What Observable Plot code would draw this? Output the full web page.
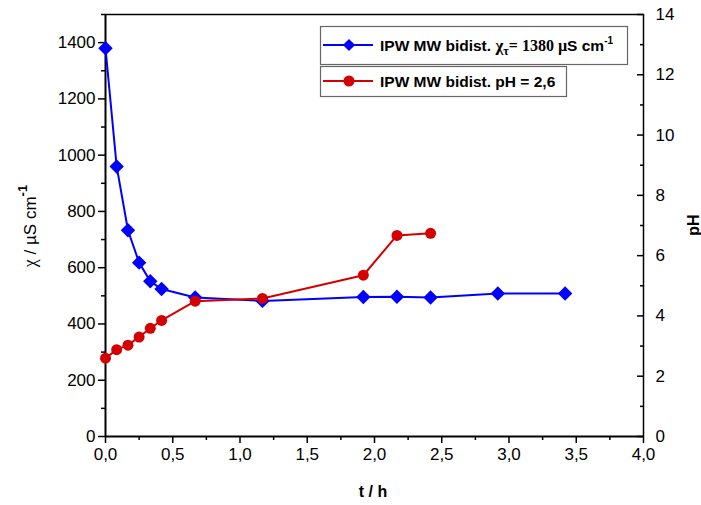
<!DOCTYPE html>
<html><head><meta charset="utf-8">
<script src="https://cdn.jsdelivr.net/npm/d3@7"></script>
<script src="https://cdn.jsdelivr.net/npm/@observablehq/plot@0.6"></script>
<style>body{margin:0;background:#fff}</style>
</head><body><div id="chart"></div>
<script>
// --- data ---
const tChi = [0, 0.083, 0.167, 0.25, 0.333, 0.417, 0.667, 1.167, 1.917, 2.167, 2.417, 2.917, 3.417];
const chi  = [1380, 960, 733, 618, 552, 524, 494, 482, 496, 497, 494, 508, 508];
const tPH  = [0, 0.083, 0.167, 0.25, 0.333, 0.417, 0.667, 1.167, 1.917, 2.167, 2.417];
const pH   = [2.6, 2.88, 3.03, 3.3, 3.59, 3.85, 4.49, 4.58, 5.35, 6.67, 6.74];
const xTicks = [0, 0.5, 1, 1.5, 2, 2.5, 3, 3.5, 4];
const xMinor = [0.25, 0.75, 1.25, 1.75, 2.25, 2.75, 3.25, 3.75];
const chiTicks = [0, 200, 400, 600, 800, 1000, 1200, 1400];
const chiMinor = [100, 300, 500, 700, 900, 1100, 1300, 1500];
const pHTicks = [0, 2, 4, 6, 8, 10, 12, 14];
const pHMinor = [1, 3, 5, 7, 9, 11, 13];
const legendLabels = ["IPW MW bidist.", "IPW MW bidist. pH = 2,6"];

const CHI_MAX = 1500, PH_MAX = 14;
const toChi = p => p * CHI_MAX / PH_MAX;
const chiData = tChi.map((t, i) => ({t, v: chi[i]}));
const phData = tPH.map((t, i) => ({t, v: pH[i]}));

const BLUE = "#0000ff", RED = "#d40000";
const sans = "'Liberation Sans', Arial, sans-serif";
const serif = "'Liberation Serif', 'Times New Roman', serif";
const comma = d => d.toFixed(1).replace(".", ",");

const svg = Plot.plot({
  width: 701, height: 505,
  marginLeft: 105, marginRight: 58, marginTop: 14, marginBottom: 69,
  style: {fontFamily: sans, fontSize: "17px", color: "#000", background: "#fff", overflow: "visible"},
  x: {domain: [0, 4], axis: null},
  y: {domain: [0, CHI_MAX], axis: null},
  marks: [
    // axes
    Plot.axisX({ticks: xMinor, tickSize: 4, fill: "none", label: null, strokeWidth: 1.5}),
    Plot.axisX({ticks: xTicks, tickSize: 7, tickPadding: 4, tickFormat: comma, label: null, strokeWidth: 1.5}),
    Plot.axisY({ticks: chiMinor, tickSize: 4, fill: "none", label: null, strokeWidth: 1.5}),
    Plot.axisY({ticks: chiTicks, tickSize: 7, tickPadding: 3, tickFormat: d => String(d), label: null, strokeWidth: 1.5}),
    Plot.axisY({anchor: "right", ticks: pHMinor.map(toChi), tickSize: 4, insetRight: 4, fill: "none", label: null, strokeWidth: 1.5}),
    Plot.axisY({anchor: "right", ticks: pHTicks.map(toChi), tickSize: 7, insetRight: 7, tickPadding: 12,
      tickFormat: d => String(Math.round(d * PH_MAX / CHI_MAX)), label: null, strokeWidth: 1.5}),
    Plot.ruleX([0], {strokeWidth: 2}),
    Plot.ruleY([0], {strokeWidth: 2}),
    Plot.ruleX([4], {strokeWidth: 1.5}),
    Plot.ruleY([CHI_MAX], {strokeWidth: 1.5}),
    // data
    Plot.line(chiData, {x: "t", y: "v", stroke: BLUE, strokeWidth: 2}),
    Plot.dot(chiData, {x: "t", y: "v", symbol: "diamond2", r: 6.5, fill: BLUE, stroke: "none"}),
    Plot.line(phData, {x: "t", y: d => toChi(d.v), stroke: RED, strokeWidth: 2}),
    Plot.dot(phData, {x: "t", y: d => toChi(d.v), r: 5.5, fill: RED, stroke: "none"})
  ]
});
document.getElementById("chart").appendChild(svg);

const s = d3.select(svg);
// axis titles
s.append("text").attr("x", 373).attr("y", 497).attr("text-anchor", "middle")
  .attr("font-family", sans).attr("font-weight", "bold").attr("font-size", 16).text("t / h");
const yl = s.append("text").attr("transform", "translate(36,226) rotate(-90)").attr("text-anchor", "middle")
  .attr("font-family", sans).attr("font-size", 17);
yl.append("tspan").attr("font-family", serif).attr("font-size", 18).text("χ");
yl.append("tspan").text(" / µS cm");
yl.append("tspan").attr("font-weight", "bold").attr("font-size", 13).attr("dy", -9).text("-1");
s.append("text").attr("transform", "translate(699,225) rotate(-90)").attr("text-anchor", "middle")
  .attr("font-family", sans).attr("font-weight", "bold").attr("font-size", 16).text("pH");

// legend
const lg = s.append("g").attr("text-anchor", "start");
function entry(y0, h, w, color, symbol, build) {
  lg.append("rect").attr("x", 320.5).attr("y", y0 + 0.5).attr("width", w).attr("height", h)
    .attr("fill", "#fff").attr("stroke", "#666").attr("stroke-width", 1.2);
  const cy = y0 + h / 2;
  lg.append("line").attr("x1", 323).attr("x2", 373).attr("y1", cy).attr("y2", cy)
    .attr("stroke", color).attr("stroke-width", 2);
  if (symbol === "diamond") {
    lg.append("path").attr("d", d3.symbol(d3.symbolDiamond2, 95)()).attr("transform", `translate(349,${cy})`).attr("fill", color);
  } else {
    lg.append("circle").attr("cx", 349).attr("cy", cy).attr("r", 5.5).attr("fill", color);
  }
  const t = lg.append("text").attr("x", 380).attr("y", cy + 5.5).attr("text-anchor", "start")
    .attr("font-family", sans).attr("font-weight", "bold").attr("font-size", 15.5);
  build(t);
}
entry(26, 38, 307, BLUE, "diamond", t => {
  t.append("tspan").text(legendLabels[0] + " ");
  t.append("tspan").attr("font-family", serif).attr("font-size", 17).text("χ");
  t.append("tspan").attr("font-family", serif).attr("font-size", 12).attr("dy", 4).text("τ");
  t.append("tspan").attr("font-family", serif).attr("font-size", 16).attr("dy", -4).text("= 1380 µ");
  t.append("tspan").text("S cm");
  t.append("tspan").attr("font-size", 10).attr("dy", -7).text("-1");
});
entry(66, 30, 246, RED, "circle", t => {
  t.text(legendLabels[1]);
});
</script>
</body></html>
